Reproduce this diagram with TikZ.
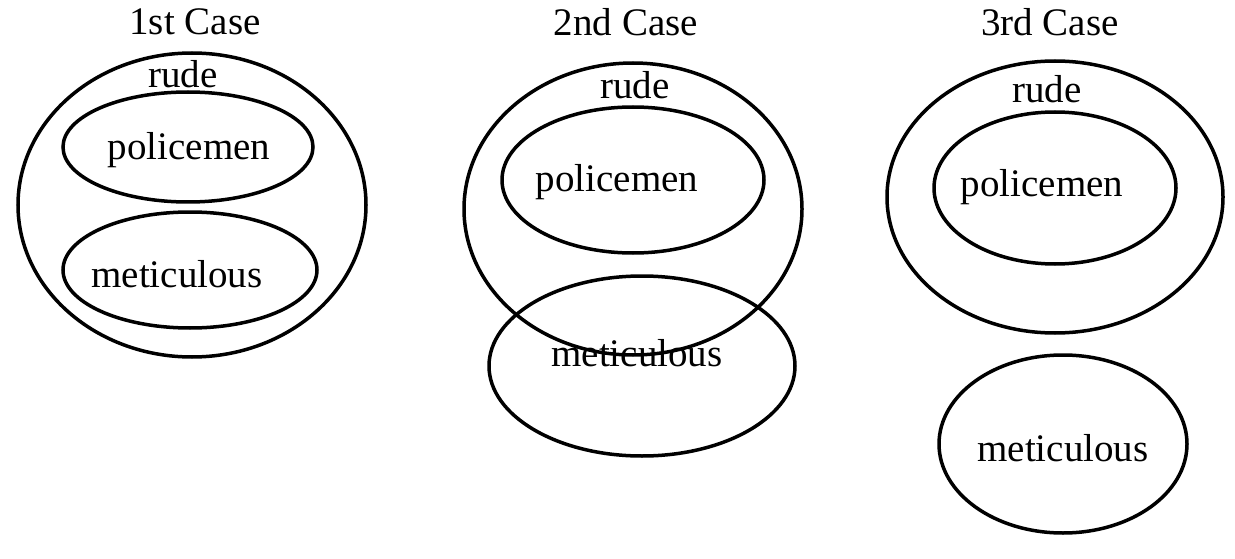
\documentclass[tikz,border=0pt]{standalone}
\usepackage{fontspec}
\setmainfont{Liberation Serif}
\usetikzlibrary{shapes.geometric}
\begin{document}
\begin{tikzpicture}[x=1pt,y=-1pt,
  ring/.style={draw=black,line width=3.5pt,ellipse,inner sep=0pt},
  lbl/.style={font=\fontsize{39}{40}\selectfont,inner sep=0pt,anchor=center}]
\useasboundingbox (0,0) rectangle (1235,559);
% Case 1
\node[lbl] (t1) at (195,22) {1st Case};
\node[ring,minimum width=348pt,minimum height=304pt] (r1) at (192,205) {};
\node[ring,minimum width=250pt,minimum height=110pt] (p1) at (188,147) {};
\node[ring,minimum width=254pt,minimum height=116pt] (m1) at (190,270) {};
\node[lbl] (rt1) at (183,74) {rude};
\node[lbl] (pt1) at (189,150) {policemen};
\node[lbl] (mt1) at (177,274) {meticulous};
% Case 2
\node[lbl] (t2) at (626,22) {2nd Case};
\node[ring,minimum width=338pt,minimum height=292pt] (r2) at (633,209) {};
\node[ring,minimum width=262pt,minimum height=146pt] (p2) at (633,180) {};
\node[ring,minimum width=306pt,minimum height=180pt] (m2) at (642,366) {};
\node[lbl] (rt2) at (635,85) {rude};
\node[lbl] (pt2) at (617,182) {policemen};
\node[lbl] (mt2) at (637,353) {meticulous};
% Case 3
\node[lbl] (t3) at (1050,22) {3rd Case};
\node[ring,minimum width=336pt,minimum height=272pt] (r3) at (1055,197) {};
\node[ring,minimum width=242pt,minimum height=152pt] (p3) at (1055,188) {};
\node[ring,minimum width=248pt,minimum height=178pt] (m3) at (1063,444) {};
\node[lbl] (rt3) at (1047,89) {rude};
\node[lbl] (pt3) at (1042,187) {policemen};
\node[lbl] (mt3) at (1063,448) {meticulous};
\end{tikzpicture}
\end{document}
